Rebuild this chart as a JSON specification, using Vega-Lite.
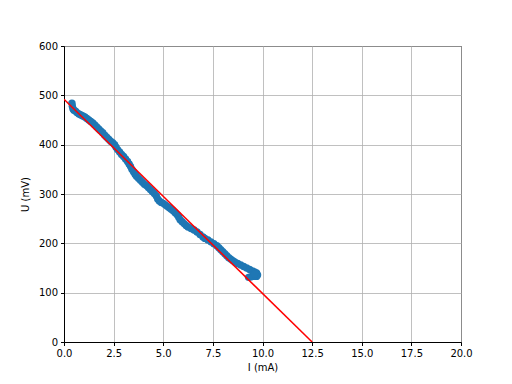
{
  "$schema": "https://vega.github.io/schema/vega-lite/v6.json",
  "width": 397,
  "height": 296,
  "autosize": "none",
  "padding": {"left": 64, "top": 46, "right": 51, "bottom": 42},
  "background": "white",
  "config": {
    "font": "DejaVu Sans",
    "view": {"stroke": "black", "strokeWidth": 1},
    "axis": {
      "domainColor": "black",
      "tickColor": "black",
      "tickSize": 3.5,
      "labelColor": "black",
      "labelFontSize": 10,
      "labelFont": "DejaVu Sans",
      "titleFont": "DejaVu Sans",
      "titleFontSize": 10,
      "titleFontWeight": "normal",
      "titleColor": "black",
      "gridColor": "#b0b0b0",
      "gridWidth": 0.8,
      "gridOpacity": 1,
      "labelPadding": 3,
      "labelFlush": false,
      "labelOverlap": false
    }
  },
  "datasets": {
    "meas": [
      {"I": 0.40, "U": 484}, {"I": 0.42, "U": 478}, {"I": 0.45, "U": 473}, {"I": 0.50, "U": 470},
      {"I": 0.58, "U": 468}, {"I": 0.65, "U": 465}, {"I": 0.75, "U": 462}, {"I": 0.85, "U": 460},
      {"I": 0.95, "U": 458}, {"I": 1.05, "U": 456}, {"I": 1.15, "U": 453}, {"I": 1.25, "U": 450},
      {"I": 1.35, "U": 447}, {"I": 1.45, "U": 444}, {"I": 1.55, "U": 440}, {"I": 1.65, "U": 436},
      {"I": 1.75, "U": 432}, {"I": 1.85, "U": 428}, {"I": 1.95, "U": 424}, {"I": 2.05, "U": 419},
      {"I": 2.15, "U": 415}, {"I": 2.25, "U": 411}, {"I": 2.35, "U": 407}, {"I": 2.45, "U": 404},
      {"I": 2.55, "U": 400}, {"I": 2.62, "U": 395}, {"I": 2.70, "U": 390}, {"I": 2.80, "U": 385},
      {"I": 2.90, "U": 380}, {"I": 3.00, "U": 376}, {"I": 3.10, "U": 371}, {"I": 3.20, "U": 366},
      {"I": 3.28, "U": 361}, {"I": 3.35, "U": 356}, {"I": 3.42, "U": 350}, {"I": 3.50, "U": 345},
      {"I": 3.58, "U": 340}, {"I": 3.65, "U": 336}, {"I": 3.75, "U": 332}, {"I": 3.85, "U": 328},
      {"I": 3.95, "U": 324}, {"I": 4.05, "U": 320}, {"I": 4.15, "U": 317}, {"I": 4.25, "U": 313},
      {"I": 4.35, "U": 309}, {"I": 4.45, "U": 305}, {"I": 4.55, "U": 301}, {"I": 4.65, "U": 296},
      {"I": 4.72, "U": 290}, {"I": 4.80, "U": 286}, {"I": 4.90, "U": 283}, {"I": 5.00, "U": 281},
      {"I": 5.10, "U": 278}, {"I": 5.20, "U": 275}, {"I": 5.30, "U": 272}, {"I": 5.40, "U": 269},
      {"I": 5.50, "U": 266}, {"I": 5.60, "U": 262}, {"I": 5.70, "U": 258}, {"I": 5.78, "U": 253},
      {"I": 5.85, "U": 248}, {"I": 5.95, "U": 244}, {"I": 6.05, "U": 240}, {"I": 6.15, "U": 236},
      {"I": 6.25, "U": 233}, {"I": 6.40, "U": 230}, {"I": 6.55, "U": 227}, {"I": 6.70, "U": 223},
      {"I": 6.85, "U": 218}, {"I": 7.00, "U": 213}, {"I": 7.10, "U": 210}, {"I": 7.25, "U": 207},
      {"I": 7.40, "U": 203}, {"I": 7.55, "U": 199}, {"I": 7.70, "U": 195}, {"I": 7.80, "U": 191},
      {"I": 7.90, "U": 187}, {"I": 8.00, "U": 183}, {"I": 8.10, "U": 179}, {"I": 8.20, "U": 175},
      {"I": 8.30, "U": 171}, {"I": 8.40, "U": 168}, {"I": 8.50, "U": 165}, {"I": 8.60, "U": 162},
      {"I": 8.75, "U": 159}, {"I": 8.90, "U": 156}, {"I": 9.05, "U": 153}, {"I": 9.20, "U": 150},
      {"I": 9.35, "U": 147}, {"I": 9.50, "U": 144}, {"I": 9.60, "U": 142}, {"I": 9.70, "U": 140},
      {"I": 9.75, "U": 136}, {"I": 9.70, "U": 133}, {"I": 9.55, "U": 133}, {"I": 9.40, "U": 132},
      {"I": 9.30, "U": 131}, {"I": 9.60, "U": 138}
    ],
    "fit": [
      {"I": 0, "U": 492},
      {"I": 12.5, "U": 0}
    ]
  },
  "layer": [
    {
      "data": {"name": "meas"},
      "mark": {"type": "circle", "color": "#1f77b4", "opacity": 1, "size": 55},
      "encoding": {
        "x": {
          "field": "I", "type": "quantitative",
          "scale": {"domain": [0, 20], "nice": false, "zero": false, "padding": 0},
          "axis": {"title": "I (mA)", "values": [0, 2.5, 5, 7.5, 10, 12.5, 15, 17.5, 20], "format": ".1f", "titlePadding": 4}
        },
        "y": {
          "field": "U", "type": "quantitative",
          "scale": {"domain": [0, 600], "nice": false, "padding": 0},
          "axis": {"title": "U (mV)", "values": [0, 100, 200, 300, 400, 500, 600], "titlePadding": 8}
        }
      }
    },
    {
      "data": {"name": "fit"},
      "mark": {"type": "line", "color": "#ff0000", "strokeWidth": 1.5, "clip": true},
      "encoding": {
        "x": {"field": "I", "type": "quantitative"},
        "y": {"field": "U", "type": "quantitative"}
      }
    }
  ]
}
